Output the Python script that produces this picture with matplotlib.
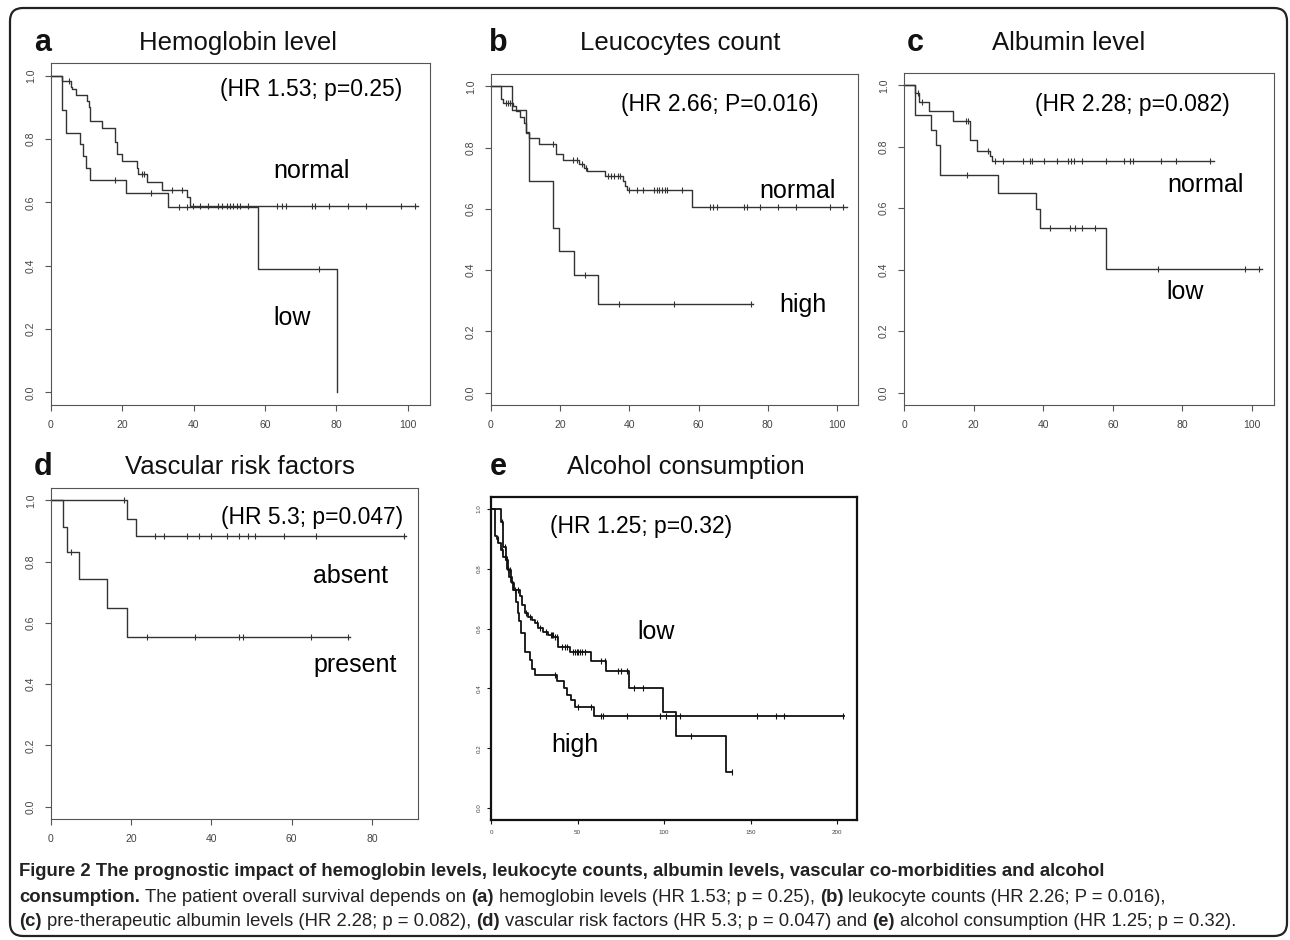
import numpy as np
import matplotlib
matplotlib.use("Agg")
import matplotlib.pyplot as plt
from matplotlib.patches import FancyBboxPatch
from matplotlib.transforms import IdentityTransform

W, H = 1290, 940
plt.rcParams['font.family'] = ['Liberation Sans', 'DejaVu Sans']

# ---- data ----
# a: hemoglobin
a_norm_t = [0, 3.0, 5.6, 6.0, 7.0, 10.2, 10.6, 11.0, 14.2, 18.0, 18.6, 20.0, 24.0, 24.5, 26.8, 31.2, 38.2, 39.0]
a_norm_s = [1.0, 0.982, 0.965, 0.958, 0.94, 0.92, 0.90, 0.857, 0.834, 0.792, 0.753, 0.731, 0.707, 0.69, 0.665, 0.64, 0.618, 0.59]
a_norm_c = [5.1, 25.4, 26.1, 34.0, 36.8, 39.8, 41.7, 44.0, 46.8, 47.8, 49.2, 50.1, 51.0, 52.0, 52.9, 55.2,
            63.2, 64.6, 65.8, 73.0, 74.0, 78.0, 83.2, 88.3, 98.1, 101.9]
a_norm_end = 102.8
a_low_t = [0, 3.0, 4.1, 8.1, 9.0, 9.8, 11.0, 21.0, 32.8, 58.0, 80.1]
a_low_s = [1.0, 0.892, 0.82, 0.785, 0.745, 0.707, 0.67, 0.63, 0.584, 0.389, 0.0]
a_low_c = [17.9, 28.0, 35.8, 38.0, 75.0]
a_low_end = 80.1

# b: leucocytes
b_norm_t = [0, 2.9, 3.6, 6.3, 7.3, 8.3, 9.4, 10.1, 10.9, 14.0, 18.8, 20.7, 25.3, 26.9, 27.8, 32.9, 38.1, 38.8, 39.4, 58.2]
b_norm_s = [1.0, 0.959, 0.945, 0.935, 0.92, 0.90, 0.88, 0.85, 0.831, 0.812, 0.78, 0.758, 0.746, 0.733, 0.722, 0.706,
            0.69, 0.673, 0.66, 0.607]
b_norm_c = [4.3, 5.0, 5.5, 18.0, 23.8, 25.0, 26.2, 27.5, 33.8, 34.7, 35.7, 36.6, 37.3, 39.9, 42.1, 43.8, 47.2, 47.9,
            48.7, 49.5, 50.3, 51.0, 55.2, 63.2, 64.1, 65.3, 73.0, 74.0, 77.8, 83.1, 88.1, 97.9, 101.9]
b_norm_end = 102.9
b_high_t = [0, 6.1, 10.1, 10.9, 18.0, 19.8, 24.0, 31.0]
b_high_s = [1.0, 0.924, 0.847, 0.692, 0.539, 0.462, 0.385, 0.289]
b_high_c = [27.2, 37.0, 53.0, 75.2]
b_high_end = 75.7

# c: albumin
c_norm_t = [0, 3.1, 4.3, 7.2, 14.1, 18.9, 21.0, 24.8, 25.3]
c_norm_s = [1.0, 0.975, 0.945, 0.915, 0.885, 0.823, 0.787, 0.77, 0.754]
c_norm_c = [4.0, 5.3, 17.9, 18.4, 24.1, 26.1, 28.3, 34.2, 36.1, 36.9, 40.1, 44.1, 47.1, 47.9, 48.9, 51.0,
            58.1, 63.1, 65.0, 65.8, 73.9, 78.1, 88.0]
c_norm_end = 89.0
c_low_t = [0, 3.1, 7.9, 9.1, 10.2, 27.0, 38.0, 39.0, 58.1]
c_low_s = [1.0, 0.904, 0.855, 0.807, 0.707, 0.651, 0.597, 0.537, 0.401]
c_low_c = [18.1, 42.0, 47.8, 49.0, 51.0, 55.0, 73.0, 97.9, 101.9]
c_low_end = 102.8

# d: vascular risk factors
d_abs_t = [0, 19.0, 21.1]
d_abs_s = [1.0, 0.94, 0.884]
d_abs_c = [18.2, 26.0, 28.1, 33.9, 36.8, 39.8, 44.0, 46.9, 49.0, 50.8, 58.0, 66.0, 88.0]
d_abs_end = 88.6
d_pres_t = [0, 3.1, 4.1, 7.1, 14.0, 19.0]
d_pres_s = [1.0, 0.914, 0.832, 0.742, 0.65, 0.554]
d_pres_c = [5.0, 24.0, 35.9, 46.9, 47.9, 64.9, 74.0]
d_pres_end = 74.6

# e: alcohol
e_low_t = [0, 5.8, 7.1, 8.7, 10.0, 11.6, 12.9, 16.8, 17.7, 19.7, 21.6, 23.5, 25.5, 27.4, 30.3, 33.2, 36.1, 39.0,
           45.7, 57.7, 66.7, 79.8, 99.2, 106.7, 135.8]
e_low_s = [1.0, 0.955, 0.874, 0.83, 0.796, 0.757, 0.73, 0.71, 0.68, 0.651, 0.64, 0.629, 0.618, 0.601, 0.59,
           0.579, 0.573, 0.54, 0.523, 0.493, 0.459, 0.402, 0.322, 0.24, 0.119]
e_low_c = [6.5, 8.0, 9.3, 11.0, 14.0, 15.5, 20.5, 22.5, 26.5, 28.5, 31.5, 34.5, 35.2, 35.8, 37.0, 38.0, 41.0,
           42.5, 43.9, 47.4, 48.5, 49.5, 50.5, 51.5, 52.5, 54.3, 63.8, 65.7, 73.5, 75.1, 78.7, 82.7, 87.7,
           115.6, 139.0]
e_low_end = 139.2
e_high_t = [0, 2.3, 3.3, 4.2, 5.6, 7.1, 9.1, 10.6, 12.0, 13.5, 14.5, 15.4, 16.4, 17.2, 19.7, 22.6, 23.5, 25.5,
            38.0, 42.2, 44.0, 46.5, 48.5, 59.7]
e_high_s = [1.0, 0.91, 0.90, 0.885, 0.863, 0.84, 0.80, 0.774, 0.752, 0.73, 0.69, 0.651, 0.624, 0.585, 0.523,
            0.496, 0.464, 0.445, 0.426, 0.40, 0.379, 0.36, 0.339, 0.308]
e_high_c = [3.8, 6.2, 8.0, 10.0, 37.0, 50.5, 57.6, 63.4, 65.0, 78.5, 97.4, 101.3, 109.0, 153.6, 164.7, 169.4, 203.6]
e_high_end = 204.0


def km(ax, times, surv, end, cens, color='#333333', lw=1.0, ms=5):
    t = np.append(times, end)
    s = np.append(surv, surv[-1])
    ax.step(t, s, where='post', color=color, lw=lw, clip_on=False)
    idx = np.searchsorted(times, cens, side='right') - 1
    ax.plot(cens, np.asarray(surv)[idx], ls='none', marker='|', ms=ms, mew=0.8, color=color, clip_on=False)


def rect(l, t, r, b):
    return [l / W, 1 - b / H, (r - l) / W, (b - t) / H]


def style(ax, xmax, xticks, small=False):
    ax.set_xlim(0, xmax)
    ax.set_ylim(-0.04, 1.04)
    ax.set_xticks(xticks)
    ax.set_yticks([0, 0.2, 0.4, 0.6, 0.8, 1.0])
    ax.set_yticklabels(['0.0', '0.2', '0.4', '0.6', '0.8', '1.0'], rotation=90, va='center')
    col = '#111111' if small else '#555555'
    for sp in ax.spines.values():
        sp.set_color(col)
        sp.set_linewidth(1.6 if small else 0.8)
    ax.tick_params(direction='out', length=3 if small else 4, width=0.8, colors=col,
                   labelsize=4.5 if small else 7.5, labelcolor='#444444', pad=4 if small else 7)


fig = plt.figure(figsize=(W / 100, H / 100), dpi=100)

ax_a = fig.add_axes(rect(51, 63, 430, 405))
km(ax_a, a_norm_t, a_norm_s, a_norm_end, a_norm_c)
km(ax_a, a_low_t, a_low_s, a_low_end, a_low_c)
style(ax_a, 106.2, [0, 20, 40, 60, 80, 100])
ax_a.text(73, 0.956, '(HR 1.53; p=0.25)', ha='center', va='center', fontsize=16.5)
ax_a.text(73, 0.70, 'normal', ha='center', va='center', fontsize=18)
ax_a.text(67.5, 0.234, 'low', ha='center', va='center', fontsize=18)

ax_b = fig.add_axes(rect(491, 74, 858, 405))
km(ax_b, b_norm_t, b_norm_s, b_norm_end, b_norm_c)
km(ax_b, b_high_t, b_high_s, b_high_end, b_high_c)
style(ax_b, 106.1, [0, 20, 40, 60, 80, 100])
ax_b.text(66.2, 0.941, '(HR 2.66; P=0.016)', ha='center', va='center', fontsize=16.5)
ax_b.text(88.7, 0.659, 'normal', ha='center', va='center', fontsize=18)
ax_b.text(90.2, 0.285, 'high', ha='center', va='center', fontsize=18)

ax_c = fig.add_axes(rect(904, 73, 1274, 405))
km(ax_c, c_norm_t, c_norm_s, c_norm_end, c_norm_c)
km(ax_c, c_low_t, c_low_s, c_low_end, c_low_c)
style(ax_c, 106.3, [0, 20, 40, 60, 80, 100])
ax_c.text(65.5, 0.938, '(HR 2.28; p=0.082)', ha='center', va='center', fontsize=16.5)
ax_c.text(86.5, 0.676, 'normal', ha='center', va='center', fontsize=18)
ax_c.text(80.7, 0.327, 'low', ha='center', va='center', fontsize=18)

ax_d = fig.add_axes(rect(51, 488, 418, 819))
km(ax_d, d_abs_t, d_abs_s, d_abs_end, d_abs_c)
km(ax_d, d_pres_t, d_pres_s, d_pres_end, d_pres_c)
style(ax_d, 91.5, [0, 20, 40, 60, 80])
ax_d.text(65.1, 0.944, '(HR 5.3; p=0.047)', ha='center', va='center', fontsize=16.5)
ax_d.text(74.6, 0.752, 'absent', ha='center', va='center', fontsize=18)
ax_d.text(75.8, 0.464, 'present', ha='center', va='center', fontsize=18)

ax_e = fig.add_axes(rect(491, 497, 857, 820))
km(ax_e, e_low_t, e_low_s, e_low_end, e_low_c, color='#111111', lw=1.3, ms=4)
km(ax_e, e_high_t, e_high_s, e_high_end, e_high_c, color='#111111', lw=1.3, ms=4)
style(ax_e, 211.5, [0, 50, 100, 150, 200], small=True)
ax_e.text(86.5, 0.94, '(HR 1.25; p=0.32)', ha='center', va='center', fontsize=16.5)
ax_e.text(95.5, 0.59, 'low', ha='center', va='center', fontsize=18)
ax_e.text(48.5, 0.21, 'high', ha='center', va='center', fontsize=18)

# panel letters and titles
letters = [('a', 43, 43), ('b', 498, 43), ('c', 915, 43), ('d', 43, 467), ('e', 498, 467)]
titles = [('Hemoglobin level', 238, 43), ('Leucocytes count', 680, 43), ('Albumin level', 1069, 43),
          ('Vascular risk factors', 240, 467), ('Alcohol consumption', 686, 467)]
for s, x, y in letters:
    fig.text(x / W, 1 - y / H, s, ha='center', va='center', fontsize=22, fontweight='bold', color='#111111')
for s, x, y in titles:
    fig.text(x / W, 1 - y / H, s, ha='center', va='center', fontsize=18.5, color='#111111')

# outer frame
fig.patches.append(FancyBboxPatch((10, 4), 1277, 928, boxstyle='round,pad=0,rounding_size=13',
                                  transform=IdentityTransform(), fill=False, lw=1.6, ec='#222222'))

# caption with mixed bold / regular runs
cap_lines = [
    [('Figure 2 The prognostic impact of hemoglobin levels, leukocyte counts, albumin levels, vascular co-morbidities and alcohol', True)],
    [('consumption.', True), ('The patient overall survival depends on', False), ('(a)', True),
     ('hemoglobin levels (HR 1.53; p = 0.25),', False), ('(b)', True),
     ('leukocyte counts (HR 2.26; P = 0.016),', False)],
    [('(c)', True), ('pre-therapeutic albumin levels (HR 2.28; p = 0.082),', False), ('(d)', True),
     ('vascular risk factors (HR 5.3; p = 0.047) and', False), ('(e)', True),
     ('alcohol consumption (HR 1.25; p = 0.32).', False)],
]
cap_y = [872, 897, 921]
cap_right = [1163, 1172, 1278]
cap_font = ['Liberation Sans', 'DejaVu Sans']
renderer = fig.canvas.get_renderer()


def txt_width(s, bold, size):
    t = fig.text(0, 0, s, fontsize=size, family=cap_font, fontweight='bold' if bold else 'normal')
    w = t.get_window_extent(renderer).width
    t.remove()
    return w


def line_width(segs, size):
    sp = txt_width('x x', False, size) - txt_width('xx', False, size)
    return sum(txt_width(s, b, size) for s, b in segs) + sp * (len(segs) - 1)


# pick the caption size so that the widest line fits inside the frame
cap_size = min(12 * (r - 19) / line_width(segs, 12) for segs, r in zip(cap_lines, cap_right))
space = txt_width('x x', False, cap_size) - txt_width('xx', False, cap_size)
for segs, y in zip(cap_lines, cap_y):
    x = 19
    for s, bold in segs:
        t = fig.text(x / W, 1 - y / H, s, ha='left', va='center', fontsize=cap_size, family=cap_font,
                     fontweight='bold' if bold else 'normal', color='#222222')
        x += t.get_window_extent(renderer).width + space

fig.savefig('out.png', dpi=100)
